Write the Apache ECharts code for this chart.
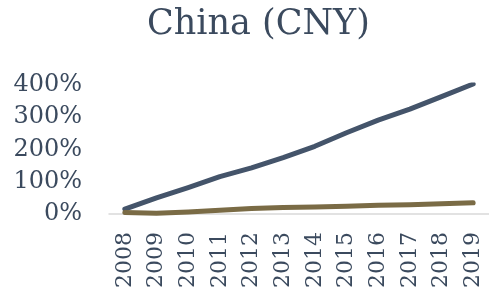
<!DOCTYPE html>
<html>
<head>
<meta charset="utf-8">
<script src="https://cdn.jsdelivr.net/npm/echarts@6/dist/echarts.min.js"></script>
<style>
  html, body { margin: 0; padding: 0; background: #fff; }
  #chart { width: 489px; height: 297px; }
</style>
</head>
<body>
<div id="chart"></div>
<script>
// years and values (percent)
var years = ['2008', '2009', '2010', '2011', '2012', '2013', '2014', '2015', '2016', '2017', '2018', '2019'];
var blueVals = [15, 50, 82, 116, 143, 175, 210, 252, 291, 325, 364, 403];
var goldVals = [5, 2, 6, 12, 17, 20, 22, 24, 27, 29, 32, 35];
var yTicks = [0, 100, 200, 300, 400];

var font = 'DejaVu Serif';
var textColor = '#3b4a5e';

var chart = echarts.init(document.getElementById('chart'));
chart.setOption({
    animation: false,
    title: {
        text: 'China (CNY)',
        left: 142,
        top: 2,
        textStyle: { fontFamily: font, fontSize: 35, fontWeight: 'normal', color: textColor }
    },
    grid: { left: 109, right: 0, top: 85, bottom: 83 },
    xAxis: {
        type: 'category',
        data: years,
        boundaryGap: true,
        axisLine: { lineStyle: { color: '#d9d9d9', width: 1.5 } },
        axisTick: { show: false },
        axisLabel: { rotate: 90, margin: 18, fontFamily: font, fontSize: 22, color: textColor, interval: 0 }
    },
    yAxis: {
        type: 'value',
        min: yTicks[0],
        max: yTicks[yTicks.length - 1],
        interval: 100,
        splitLine: { show: false },
        axisLine: { show: false },
        axisTick: { show: false },
        axisLabel: { formatter: '{value}%', margin: 27, fontFamily: font, fontSize: 24, color: textColor }
    },
    series: [{
        type: 'line',
        data: blueVals,
        symbol: 'none',
        lineStyle: { color: '#44546a', width: 5, cap: 'round', join: 'round' }
    }, {
        type: 'line',
        data: goldVals,
        symbol: 'none',
        lineStyle: { color: '#7a6b45', width: 5, cap: 'round', join: 'round' }
    }]
});
</script>
</body>
</html>
